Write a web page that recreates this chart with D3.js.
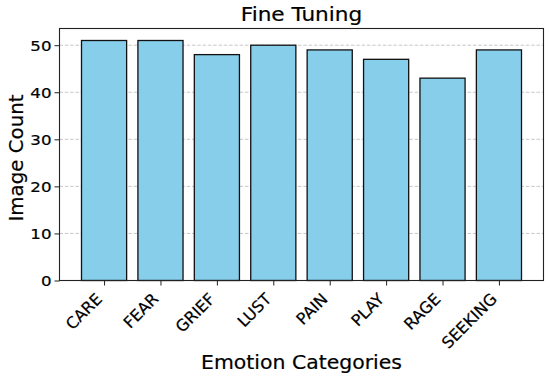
<!DOCTYPE html>
<html>
<head>
  <meta charset="utf-8">
  <script src="https://cdn.jsdelivr.net/npm/d3@7"></script>
  <style>
    body { margin: 0; background: #fff; }
    text { font-family: "DejaVu Sans", sans-serif; fill: #000; stroke: #000; stroke-width: 0.2px; }
  </style>
</head>
<body>
<script>
// chart data
var categories = ["CARE", "FEAR", "GRIEF", "LUST", "PAIN", "PLAY", "RAGE", "SEEKING"];
var counts = [51, 51, 48, 50, 49, 47, 43, 49];
var yTicks = [0, 10, 20, 30, 40, 50];

var W = 550, H = 381;
var plotL = 59.5, plotR = 543.5, plotT = 28.5, plotB = 280.5;
// the picture is a little wider than tall, so text gets stretched sideways
var sx = 1.15;

var svg = d3.select("body").append("svg").attr("width", W).attr("height", H);

// matplotlib style limits: bars at 0..n-1, width 0.8, 5% margins
var n = categories.length;
var xmin = -0.4, xmax = n - 1 + 0.4, pad = (xmax - xmin) * 0.05;
var x = d3.scaleLinear().domain([xmin - pad, xmax + pad]).range([plotL, plotR]);
var ymax = d3.max(counts) * 1.05;
var y = d3.scaleLinear().domain([0, ymax]).range([plotB, plotT]);

// grid
svg.append("g").selectAll("line").data(yTicks).enter().append("line")
  .attr("x1", plotL).attr("x2", plotR)
  .attr("y1", function(d) { return y(d); }).attr("y2", function(d) { return y(d); })
  .attr("stroke", "#b0b0b0").attr("stroke-opacity", 0.7).attr("stroke-width", 1)
  .attr("stroke-dasharray", "3.5,1.8");

// bars
svg.append("g").selectAll("rect").data(counts).enter().append("rect")
  .attr("x", function(d, i) { return x(i - 0.4); })
  .attr("width", function(d, i) { return x(i + 0.4) - x(i - 0.4); })
  .attr("y", function(d) { return y(d); })
  .attr("height", function(d) { return y(0) - y(d); })
  .attr("fill", "#87ceeb").attr("stroke", "#111").attr("stroke-width", 1.3);

// y axis
var yAxis = d3.axisLeft(y).tickValues(yTicks).tickSize(5).tickFormat(d3.format("d"));
var gy = svg.append("g").attr("transform", "translate(" + plotL + ",0)").call(yAxis);
gy.select(".domain").remove();
gy.selectAll("line").attr("stroke", "#222");
gy.selectAll("text")
  .style("font-size", "14.5px").style("font-family", "DejaVu Sans")
  .attr("x", 0).attr("dy", "0.36em")
  .attr("transform", "translate(-8,0) scale(" + sx + ",1)");

// x axis
var xAxis = d3.axisBottom(x).tickValues(d3.range(n)).tickSize(5).tickFormat(function(d) { return categories[d]; });
var gx = svg.append("g").attr("transform", "translate(0," + plotB + ")").call(xAxis);
gx.select(".domain").remove();
gx.selectAll("line").attr("stroke", "#222");
gx.selectAll("text")
  .style("font-size", "16px").style("font-family", "DejaVu Sans")
  .attr("text-anchor", "end")
  .attr("dy", "0")
  .attr("y", 0)
  .attr("transform", "translate(-1.5,19.5) rotate(-45)");

// frame
svg.append("rect").attr("x", plotL).attr("y", plotT).attr("width", plotR - plotL).attr("height", plotB - plotT)
  .attr("fill", "none").attr("stroke", "#222").attr("stroke-width", 1.1);

// titles
svg.append("text").attr("transform", "translate(" + ((plotL + plotR) / 2) + ",20.7) scale(" + sx + ",1)")
  .attr("text-anchor", "middle").style("font-size", "18.8px").text("Fine Tuning");
svg.append("text").attr("transform", "translate(" + ((plotL + plotR) / 2) + ",369.3) scale(1.075,1)")
  .attr("text-anchor", "middle").style("font-size", "19px").text("Emotion Categories");
svg.append("text").attr("transform", "translate(22.7,158) rotate(-90)").attr("text-anchor", "middle")
  .style("font-size", "19.8px").text("Image Count");
</script>
</body>
</html>
